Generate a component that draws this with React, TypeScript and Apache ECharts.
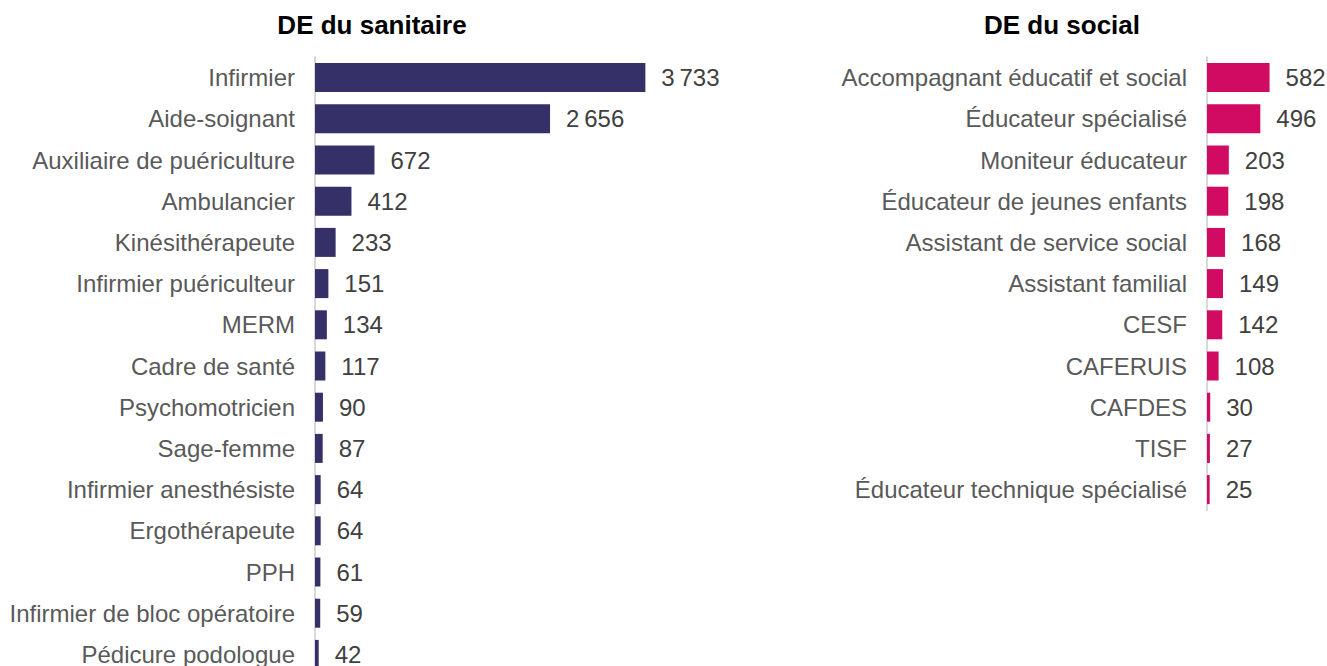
import React, { useEffect, useRef } from "react";
import * as echarts from "echarts";

const sanitaireCategories = [
  "Infirmier",
  "Aide-soignant",
  "Auxiliaire de puériculture",
  "Ambulancier",
  "Kinésithérapeute",
  "Infirmier puériculteur",
  "MERM",
  "Cadre de santé",
  "Psychomotricien",
  "Sage-femme",
  "Infirmier anesthésiste",
  "Ergothérapeute",
  "PPH",
  "Infirmier de bloc opératoire",
  "Pédicure podologue",
];
const sanitaireValues = [3733, 2656, 672, 412, 233, 151, 134, 117, 90, 87, 64, 64, 61, 59, 42];

const socialCategories = [
  "Accompagnant éducatif et social",
  "Éducateur spécialisé",
  "Moniteur éducateur",
  "Éducateur de jeunes enfants",
  "Assistant de service social",
  "Assistant familial",
  "CESF",
  "CAFERUIS",
  "CAFDES",
  "TISF",
  "Éducateur technique spécialisé",
];
const socialValues = [582, 496, 203, 198, 168, 149, 142, 108, 30, 27, 25];

const titles = ["DE du sanitaire", "DE du social"];

const fmt = (v: number) => String(v).replace(/\B(?=(\d{3})+(?!\d))/g, "\u202f");

const FONT = "'Liberation Sans', Arial, sans-serif";
const ROW = 41.2;

export default function App() {
  const ref = useRef<HTMLDivElement>(null);
  useEffect(() => {
    if (!ref.current) return;
    const chart = echarts.init(ref.current, undefined, { renderer: "svg" });
    const catAxis = (cats: string[], gridIndex: number) => ({
      type: "category",
      gridIndex,
      data: cats,
      inverse: true,
      axisLine: { show: true, lineStyle: { color: "#d9d9d9", width: 2 } },
      axisTick: { show: false },
      axisLabel: { color: "#595959", fontSize: 24, fontFamily: FONT, margin: 20 },
    });
    const valAxis = (max: number, gridIndex: number) => ({
      type: "value",
      gridIndex,
      min: 0,
      max,
      show: false,
      splitLine: { show: false },
    });
    const barSeries = (vals: number[], idx: number, color: string) => ({
      type: "bar",
      xAxisIndex: idx,
      yAxisIndex: idx,
      data: vals,
      barWidth: 29,
      itemStyle: { color },
      label: {
        show: true,
        position: "right",
        distance: 16,
        color: "#404040",
        fontSize: 24,
        fontFamily: FONT,
        formatter: (p: any) => fmt(p.value),
      },
    });
    chart.setOption({
      animation: false,
      textStyle: { fontFamily: FONT },
      grid: [
        { left: 315, top: 57, width: 354, height: ROW * sanitaireCategories.length },
        { left: 1207, top: 57, width: 64.5, height: ROW * socialCategories.length },
      ],
      xAxis: [valAxis(4000, 0), valAxis(600, 1)],
      yAxis: [catAxis(sanitaireCategories, 0), catAxis(socialCategories, 1)],
      series: [
        barSeries(sanitaireValues, 0, "#363068"),
        barSeries(socialValues, 1, "#d10a62"),
      ],
      graphic: [
        {
          type: "text",
          x: 372,
          y: 25,
          style: {
            text: titles[0],
            fill: "#000",
            font: `bold 26px ${FONT}`,
            textAlign: "center",
            textVerticalAlign: "middle",
          },
        },
        {
          type: "text",
          x: 1062,
          y: 25,
          style: {
            text: titles[1],
            fill: "#000",
            font: `bold 26px ${FONT}`,
            textAlign: "center",
            textVerticalAlign: "middle",
          },
        },
      ],
    });
    return () => chart.dispose();
  }, []);
  return (
    <div
      ref={ref}
      style={{ position: "fixed", left: 0, top: 0, width: 1327, height: 700, background: "#fff" }}
    />
  );
}
